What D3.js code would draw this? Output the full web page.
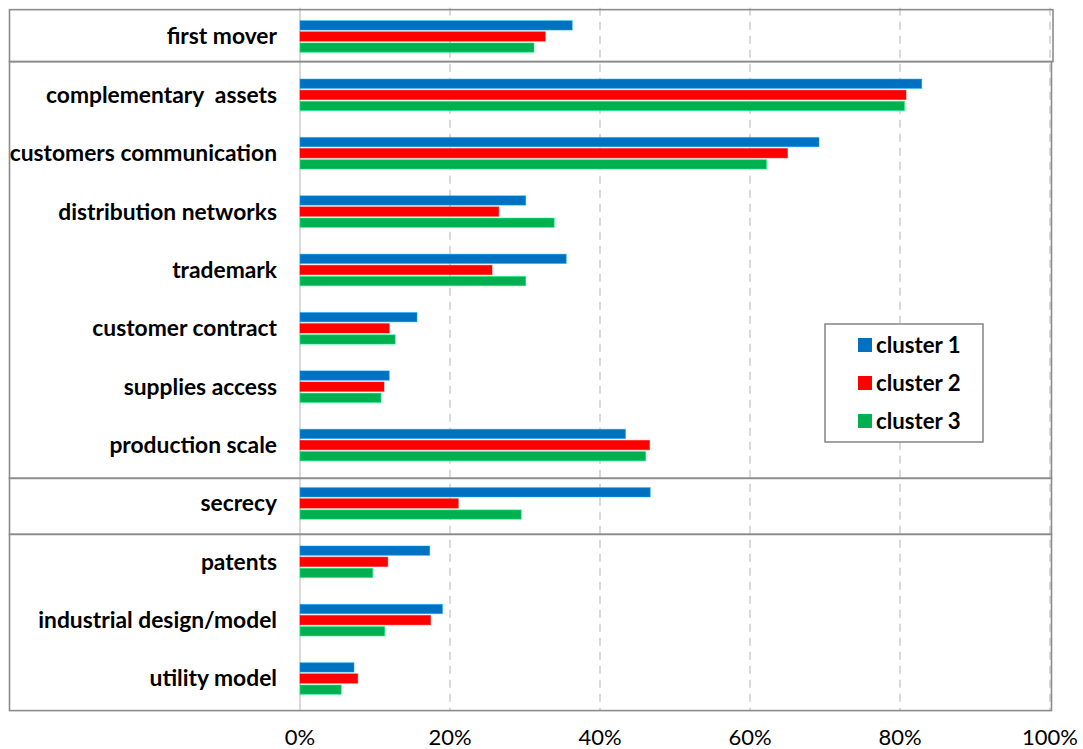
<!DOCTYPE html>
<html>
<head>
<meta charset="utf-8">
<script src="https://cdn.jsdelivr.net/npm/d3@7"></script>
<style>
  body { margin: 0; background: #fff; }
  svg { display: block; }
  text { font-family: Lato, "Open Sans", "Liberation Sans", sans-serif; white-space: pre; }
</style>
</head>
<body>
<svg id="chart" width="1083" height="749"></svg>
<script>
(function () {
    var categories = ['first mover', 'complementary  assets', 'customers communication',
        'distribution networks', 'trademark', 'customer contract', 'supplies access',
        'production scale', 'secrecy', 'patents', 'industrial design/model', 'utility model'];
    var seriesNames = ['cluster 1', 'cluster 2', 'cluster 3'];
    var seriesColors = ['#0070C0', '#FF0000', '#00B050'];
    var cluster1 = [36.3, 82.9, 69.2, 30.1, 35.5, 15.6, 11.9, 43.4, 46.7, 17.3, 19.0, 7.2];
    var cluster2 = [32.7, 80.8, 65.0, 26.5, 25.6, 11.9, 11.2, 46.6, 21.1, 11.7, 17.4, 7.7];
    var cluster3 = [31.2, 80.6, 62.2, 33.9, 30.1, 12.7, 10.8, 46.1, 29.5, 9.7, 11.3, 5.5];
    var xTicks = [0, 20, 40, 60, 80, 100];
    // group boxes, boundaries given in category-index units
    var groupBreaks = [-0.46, 0.43, 7.57, 8.53, 11.55];

    var svg = d3.select('#chart');
    var x0 = 300, x1 = 1050;

    var xScale = d3.scaleLinear().domain([0, 100]).range([x0, x1]);
    var yIdx = d3.scaleLinear().domain([0, categories.length - 1]).range([36.5, 678.5]);
    var yBand = d3.scaleBand().domain(categories)
        .range([yIdx(0) - 29.2, yIdx(categories.length - 1) + 29.2]);
    var inner = d3.scaleBand().domain(seriesNames).range([-15.8, 15.8]).paddingInner(0.16);

    var values = [cluster1, cluster2, cluster3];

    // gridlines
    svg.append('g').selectAll('line')
        .data(xTicks.slice(1))
        .enter().append('line')
        .attr('x1', function (d) { return xScale(d); })
        .attr('x2', function (d) { return xScale(d); })
        .attr('y1', yIdx(groupBreaks[0]) - 2)
        .attr('y2', yIdx(groupBreaks[4]))
        .attr('stroke', '#d9d9d9')
        .attr('stroke-width', 2)
        .attr('stroke-dasharray', '8,6');

    // zero line
    svg.append('line')
        .attr('x1', xScale(0)).attr('x2', xScale(0))
        .attr('y1', yIdx(groupBreaks[0]) - 2).attr('y2', yIdx(groupBreaks[4]))
        .attr('stroke', '#d9d9d9').attr('stroke-width', 2);

    // group boxes
    for (var g = 0; g < groupBreaks.length - 1; g++) {
        svg.append('rect')
            .attr('x', 9.5)
            .attr('y', yIdx(groupBreaks[g]))
            .attr('width', (g === 0 ? 1053 : 1051.5) - 9.5)
            .attr('height', yIdx(groupBreaks[g + 1]) - yIdx(groupBreaks[g]))
            .attr('fill', 'none')
            .attr('stroke', '#8c8c8c')
            .attr('stroke-width', 1.6);
    }

    // bars
    seriesNames.forEach(function (s, si) {
        svg.append('g').selectAll('rect')
            .data(values[si])
            .enter().append('rect')
            .attr('x', xScale(0))
            .attr('y', function (d, i) {
                return yBand(categories[i]) + yBand.bandwidth() / 2 + inner(s);
            })
            .attr('width', function (d) { return xScale(d) - xScale(0); })
            .attr('height', inner.bandwidth())
            .attr('fill', seriesColors[si])
            .attr('stroke', d3.color(seriesColors[si]).brighter(1.2))
            .attr('stroke-opacity', 0.5)
            .attr('stroke-width', 1);
    });

    // category labels
    svg.append('g').selectAll('text')
        .data(categories)
        .enter().append('text')
        .attr('x', 277)
        .attr('y', function (d) { return yBand(d) + yBand.bandwidth() / 2; })
        .attr('dy', '0.35em')
        .attr('text-anchor', 'end')
        .attr('font-size', 22.8)
        .attr('font-weight', 'bold')
        .attr('fill', '#000')
        .text(function (d) { return d; });

    // x axis labels
    svg.append('g').selectAll('text')
        .data(xTicks)
        .enter().append('text')
        .attr('x', function (d) { return xScale(d); })
        .attr('y', 737)
        .attr('dy', '0.35em')
        .attr('text-anchor', 'middle')
        .attr('font-size', 22)
        .attr('fill', '#000')
        .text(function (d) { return d + '%'; });

    // legend
    var legend = svg.append('g').attr('transform', 'translate(825,324)');
    legend.append('rect')
        .attr('width', 158).attr('height', 118)
        .attr('fill', '#fff')
        .attr('stroke', '#8c8c8c').attr('stroke-width', 1.6);
    var items = legend.selectAll('g.item')
        .data(seriesNames)
        .enter().append('g')
        .attr('class', 'item')
        .attr('transform', function (d, i) { return 'translate(33,' + (21 + i * 38) + ')'; });
    items.append('rect')
        .attr('x', 0).attr('y', -7)
        .attr('width', 14).attr('height', 14)
        .attr('fill', function (d, i) { return seriesColors[i]; });
    items.append('text')
        .attr('x', 18).attr('dy', '0.35em')
        .attr('font-size', 22.2).attr('font-weight', 'bold')
        .text(function (d) { return d; });
})();
</script>
</body>
</html>
